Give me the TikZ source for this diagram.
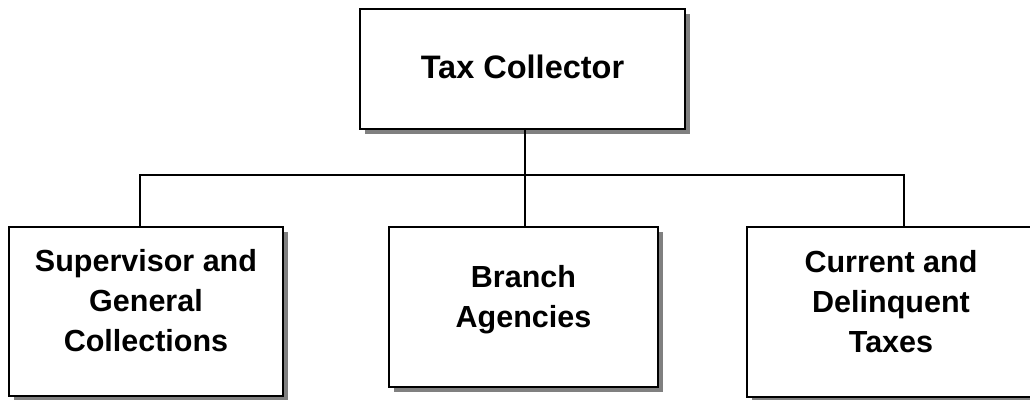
\documentclass[tikz,border=0pt]{standalone}
\usepackage{fontspec}
\setmainfont{Liberation Sans}
\usetikzlibrary{shadows}

\begin{document}
\begin{tikzpicture}[x=1pt, y=-1pt,
  every node/.style={rectangle, draw, line width=2.2pt, fill=white, align=center,
    font=\bfseries\fontsize{30.5}{40}\selectfont,
    drop shadow={shadow xshift=5pt, shadow yshift=-5pt, fill=black!50, opacity=1}},
  unit/.style={text depth=22pt}]
  \useasboundingbox (0,0) rectangle (1030,399);
  \node[minimum width=325, minimum height=120, font=\bfseries\fontsize{32.5}{40}\selectfont, text depth=4pt] (top) at (522.5, 69) {Tax Collector};
  \node[unit, minimum width=274, minimum height=169] (sup) at (146, 311.5) {Supervisor and\\General\\Collections};
  \node[unit, minimum width=269, minimum height=160] (branch) at (523.5, 307) {Branch\\Agencies};
  \node[unit, minimum width=288, minimum height=170] (taxes) at (891, 312) {Current and\\Delinquent\\Taxes};
  \coordinate (bus) at (525, 175);
  \draw[line width=2pt] (top.south -| bus) -- (branch.north -| bus);
  \draw[line width=2pt] ([xshift=-6pt]sup.north) |- (bus) -| ([xshift=13pt]taxes.north);
\end{tikzpicture}
\end{document}
